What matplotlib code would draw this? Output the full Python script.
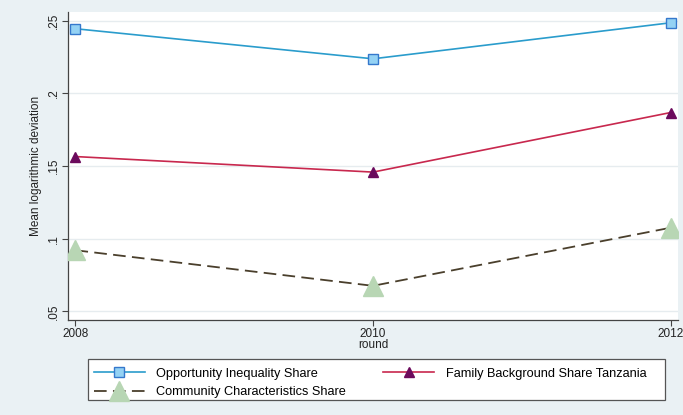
import matplotlib
matplotlib.use("Agg")
import matplotlib.pyplot as plt
from matplotlib.patches import Rectangle

rounds = [2008, 2010, 2012]
opportunity = [0.2445, 0.2238, 0.2486]
family = [0.1565, 0.1458, 0.1868]
community = [0.0920, 0.0675, 0.1075]
yticks = [0.05, 0.10, 0.15, 0.20, 0.25]
yticklabels = [".05", ".1", ".15", ".2", ".25"]

plt.rcParams['font.family'] = ['Liberation Sans', 'DejaVu Sans']

fig = plt.figure(figsize=(6.83, 4.15), dpi=100)
fig.patch.set_facecolor('#eaf1f4')
ax = fig.add_axes([0.0996, 0.229, 0.8931, 0.742])
ax.set_facecolor('white')

h1, = ax.plot(rounds, opportunity, color='#2a9ccc', lw=1.2, marker='s', ms=7,
              mfc='#94d2f4', mec='#3578cc', mew=1.0, label='Opportunity Inequality Share', zorder=3)
h2, = ax.plot(rounds, family, color='#c8284e', lw=1.2, marker='^', ms=7,
              mfc='#6b0a5c', mec='#6b0a5c', label='Family Background Share Tanzania', zorder=3)
h3, = ax.plot(rounds, community, color='#4a3f2c', lw=1.3, ls=(0, (7, 3.5)), marker='^', ms=15,
              mfc='#b8d6b4', mec='#b8d6b4', label='Community Characteristics Share', zorder=3)

ax.set_xlim(2007.95, 2012.05)
ax.set_ylim(0.044, 0.256)
ax.set_xticks(rounds)
ax.set_xticklabels([str(r) for r in rounds], fontsize=8.5, color='#222222')
ax.set_yticks(yticks)
ax.set_yticklabels(yticklabels, fontsize=8.5, rotation=90, va='center', color='#222222')
ax.grid(axis='y', color='#e6ecef', lw=1.0)
ax.set_axisbelow(True)
ax.tick_params(length=4, width=0.8, color='#444444', pad=2)
for s in ['top', 'right']:
    ax.spines[s].set_visible(False)
for s in ['left', 'bottom']:
    ax.spines[s].set_color('#444444')
    ax.spines[s].set_linewidth(0.9)

ax.set_xlabel('round', fontsize=8.5, labelpad=-1, color='#222222')
ax.set_ylabel('Mean logarithmic deviation', fontsize=8.5, labelpad=4, color='#222222')

# legend frame drawn as a figure rectangle to match the reference width
frame = Rectangle((88/683, 1-400/415), 577/683, 41/415, transform=fig.transFigure,
                  facecolor='white', edgecolor='#555555', lw=0.9, zorder=1)
fig.patches.append(frame)

leg = fig.legend([h1, h3, h2], [h1.get_label(), h3.get_label(), h2.get_label()],
                 loc='upper left', bbox_to_anchor=(88/683, 1-362/415),
                 borderaxespad=0, ncol=2, fontsize=9.2, frameon=False,
                 handlelength=4.0, borderpad=0.45,
                 labelspacing=0.5, columnspacing=2.9, handletextpad=0.9)
leg.set_zorder(2)

fig.savefig('out.png', dpi=100, facecolor=fig.get_facecolor())
